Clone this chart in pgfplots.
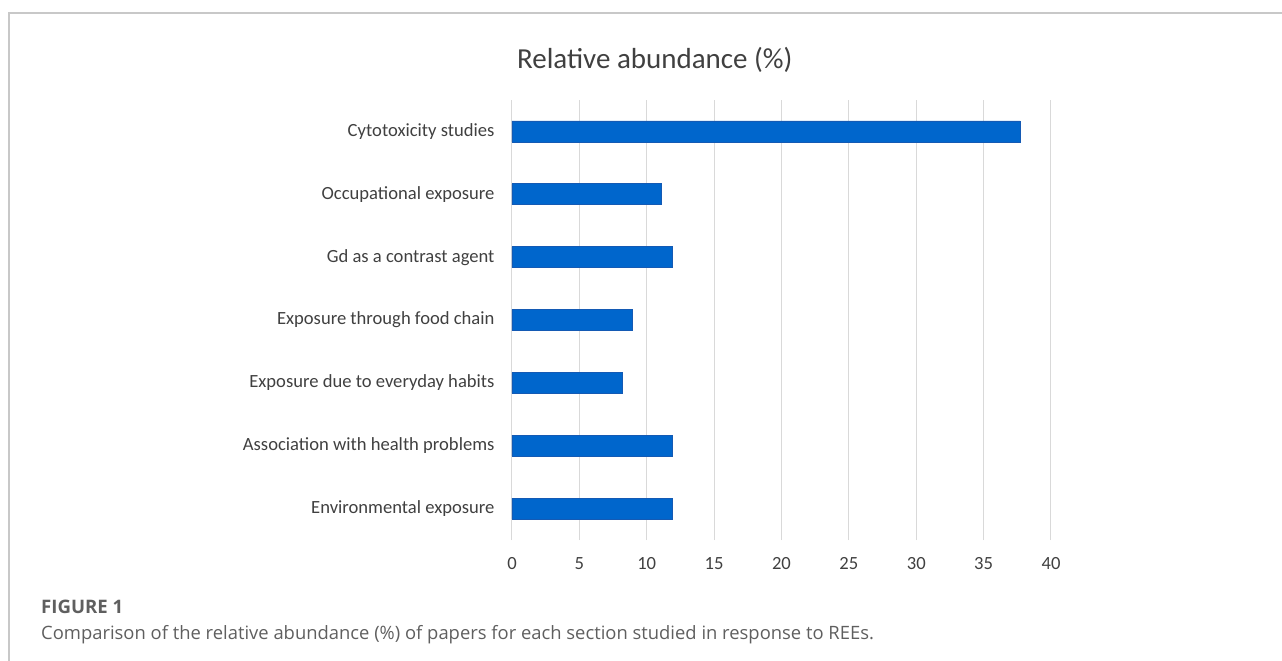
\documentclass[border=0pt]{standalone}
\usepackage{fontspec}
\setmainfont{Carlito}
\newfontfamily\capfont{Open Sans}
\usepackage{pgfplots}
\pgfplotsset{compat=1.18}

\definecolor{barblue}{RGB}{0,102,204}
\definecolor{baredge}{RGB}{20,90,180}
\definecolor{gridgray}{RGB}{217,217,217}
\definecolor{labgray}{RGB}{64,64,64}
\definecolor{capgray}{RGB}{95,95,95}
\definecolor{framegray}{RGB}{200,200,200}

\begin{document}
\begin{tikzpicture}
  \path[use as bounding box] (-512bp,-121bp) rectangle (770bp,540bp);
  % figure frame (top and left)
  \draw[framegray, line width=1.6bp] (-503bp,-121bp) -- (-503bp,527bp) -- (770bp,527bp);

  \begin{axis}[
      at={(0,0)}, anchor=south west,
      scale only axis,
      width=539bp, height=440bp,
      xbar, bar width=21bp,
      xmin=0, xmax=40,
      ymin=-0.5, ymax=6.5,
      xtick={0,5,...,40},
      ytick={0,...,6},
      yticklabels={Environmental exposure, Association with health problems,
        Exposure due to everyday habits, Exposure through food chain,
        Gd as a contrast agent, Occupational exposure, Cytotoxicity studies},
      axis line style={draw=none},
      major tick length=0,
      xmajorgrids, grid style={gridgray, line width=1bp},
      tick label style={font=\fontsize{18.6bp}{21bp}\selectfont, text=labgray},
      /pgf/number format/assume math mode=true,
      xticklabel style={yshift=-14bp},
      yticklabel style={xshift=-14bp},
      title={Relative abundance (\%)},
      title style={font=\fontsize{29bp}{33bp}\selectfont, text=labgray, at={(0.265,1)}, anchor=base, yshift=26bp},
      clip=false,
    ]
    \addplot[fill=barblue, draw=baredge, line width=0.6bp] coordinates {
      (11.9,0) (11.9,1) (8.2,2) (8.9,3) (11.9,4) (11.1,5) (37.7,6)
    };
  \end{axis}

  % caption
  \node[anchor=base west, inner sep=0, text=capgray, font=\capfont\bfseries\fontsize{18.6bp}{21bp}\selectfont]
    at (-471bp,-73bp) {FIGURE 1};
  \node[anchor=base west, inner sep=0, text=capgray, font=\capfont\fontsize{18.4bp}{21bp}\selectfont]
    at (-471bp,-99bp) {Comparison of the relative abundance (\%) of papers for each section studied in response to REEs.};
\end{tikzpicture}
\end{document}
